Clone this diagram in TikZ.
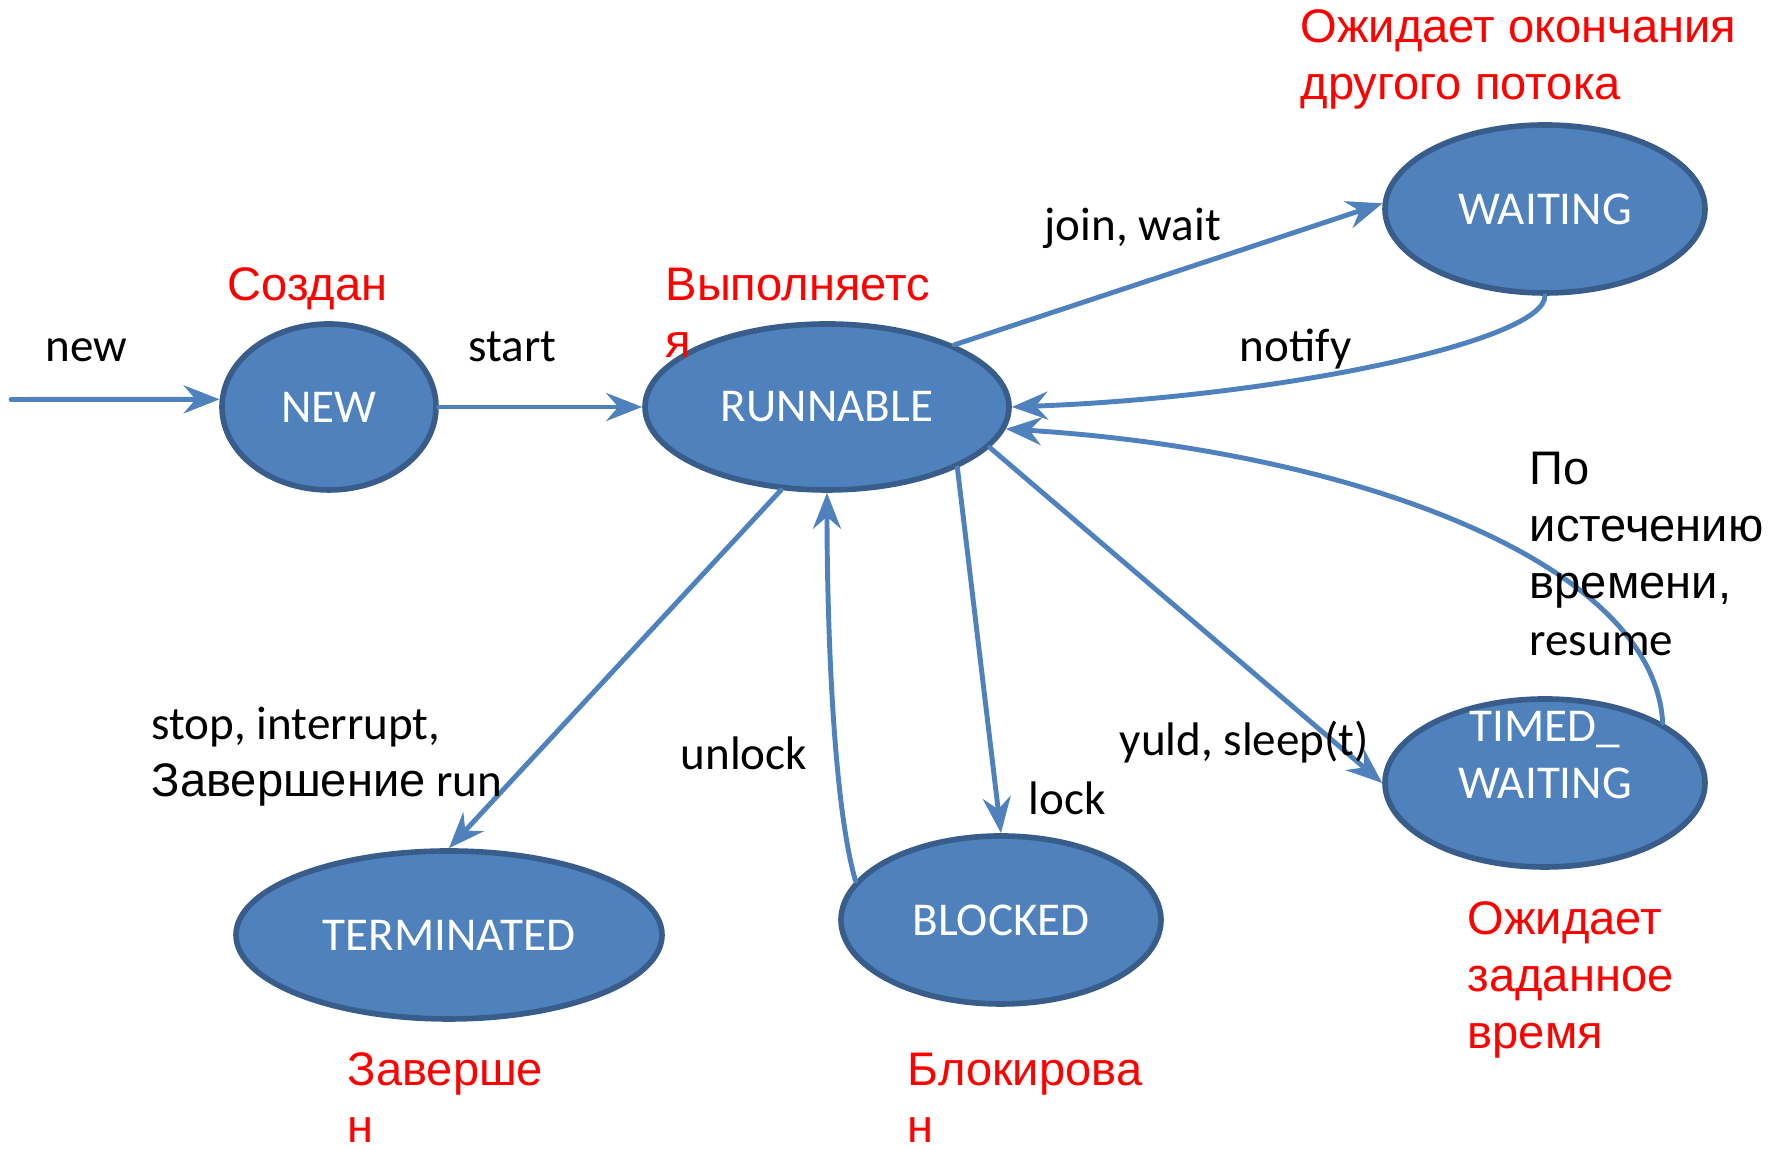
\documentclass[tikz,border=0pt]{standalone}
\usepackage{fontspec}
\setmainfont{Carlito}
\newfontfamily\arialfont{Liberation Sans}
\usetikzlibrary{shapes.geometric,arrows.meta}
\definecolor{stateblue}{HTML}{4F81BD}
\definecolor{stateedge}{HTML}{385D8A}
\definecolor{notered}{HTML}{FF0000}
\begin{document}
\begin{tikzpicture}[font=\fontsize{13.4}{16.3}\selectfont, line join=round, line cap=round,
		>={Stealth[length=3.6mm,width=2.8mm,inset=1.2mm]},
		state/.style={ellipse, draw=stateedge, line width=1.6pt, fill=stateblue, text=white, inner sep=0pt},
		trans/.style={->, draw=stateblue, line width=1.4pt},
		lbl/.style={anchor=base west, inner sep=0pt, align=left},
		note/.style={lbl, text=notered, font=\fontsize{13.4}{16.3}\selectfont\arialfont}]
			\useasboundingbox (0,0) rectangle (17.83,11.5);
			\node[state, minimum width=2.14cm, minimum height=1.66cm] (NEW) at (3.29,7.43) {NEW};
			\node[state, minimum width=3.64cm, minimum height=1.66cm] (RUN) at (8.27,7.43) {RUNNABLE};
			\node[state, minimum width=3.2cm, minimum height=1.68cm] (WAIT) at (15.45,9.41) {WAITING};
			\node[state, minimum width=3.2cm, minimum height=1.68cm,
				label={[white, align=center, yshift=2.8mm]center:TIMED\_\\WAITING}] (TIMED) at (15.45,3.67) {};
			\node[state, minimum width=4.26cm, minimum height=1.68cm] (TERM) at (4.49,2.15) {TERMINATED};
			\node[state, minimum width=3.2cm, minimum height=1.68cm] (BLOCK) at (10.01,2.30) {BLOCKED};
			\coordinate (enter) at (0.11,7.505);
			\draw[trans] (enter) -- (NEW.176);
			\draw[trans] (NEW) -- (RUN);
			\draw[trans] (RUN.26) -- (WAIT.178);
			\draw[trans] (WAIT.south) .. controls +(0,-0.45) and +(2.7,0.1) .. (RUN.east);
			\draw[trans] (TIMED.27) .. controls +(-0.09,1.64) and +(3.38,-0.21) .. (RUN.-7);
			\draw[trans] (RUN.-14) -- (TIMED.west);
			\draw[trans] (RUN.-25) -- (BLOCK.north);
			\draw[trans] (BLOCK.165) .. controls +(-0.24,0.83) and +(0,-1.1) .. (RUN.south);
			\draw[trans] (RUN.241) -- (TERM.north);
			\node[lbl] (newlbl) at (0.45,7.88) {new};
			\node[lbl] (startlbl) at (4.68,7.88) {start};
			\node[lbl] (joinlbl) at (10.44,9.09) {join, wait};
			\node[lbl] (notifylbl) at (12.39,7.88) {notify};
			\node[lbl] (timeoutlbl) at (15.29,4.94) {{\arialfont По}\\{\arialfont истечению}\\{\arialfont времени,}\\resume};
			\node[lbl] (stoplbl) at (1.51,3.53) {stop, interrupt,\\{\arialfont Завершение} run};
			\node[lbl] (unlocklbl) at (6.80,3.80) {unlock};
			\node[lbl] (locklbl) at (10.28,3.35) {lock};
			\node[lbl] (sleeplbl) at (11.19,3.94) {yuld, sleep(t)};
			\node[note] (newnote) at (2.27,8.49) {Создан};
			\node[note] (runnote) at (6.65,7.92) {Выполняетс\\я};
			\node[note] (waitnote) at (13.00,10.50) {Ожидает окончания\\другого потока};
			\node[note] (timednote) at (14.67,1.01) {Ожидает\\заданное\\время};
			\node[note] (termnote) at (3.47,0.07) {Заверше\\н};
			\node[note] (blocknote) at (9.07,0.07) {Блокирова\\н};
		\end{tikzpicture}
\end{document}
